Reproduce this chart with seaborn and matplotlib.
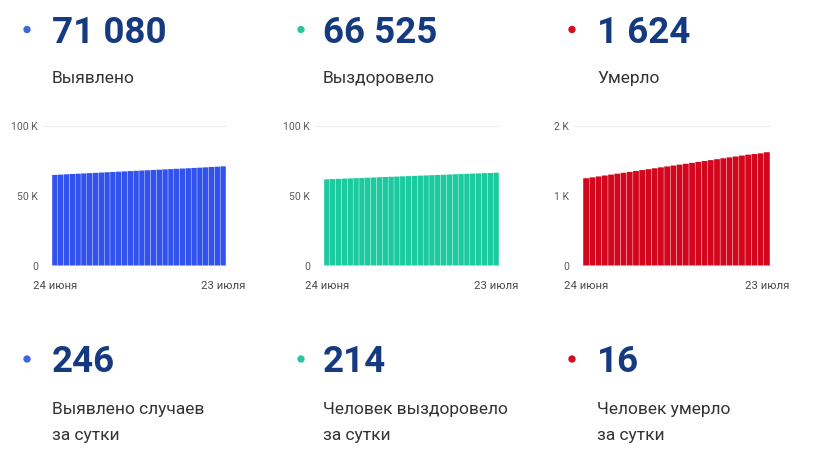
import matplotlib
matplotlib.use("Agg")
import matplotlib.pyplot as plt
import seaborn as sns
import pandas as pd

sns.set_style("white")
plt.rcParams['font.family'] = ['Roboto', 'DejaVu Sans']

# ---- data ----
days = list(range(1, 31))  # 24 June .. 23 July
x_tick_labels = ["24 июня", "23 июля"]

detected = [64950, 65150, 65370, 65580, 65800, 66010, 66220, 66420, 66630, 66840,
            67040, 67250, 67460, 67660, 67870, 68080, 68290, 68500, 68700, 68910,
            69110, 69320, 69520, 69730, 69940, 70150, 70360, 70600, 70834, 71080]
recovered = [61800, 61960, 62120, 62290, 62450, 62610, 62780, 62940, 63100, 63270,
             63430, 63590, 63760, 63920, 64080, 64250, 64410, 64570, 64740, 64900,
             65060, 65230, 65390, 65550, 65720, 65880, 66040, 66200, 66311, 66525]
deaths = [1251, 1264, 1277, 1290, 1303, 1316, 1329, 1342, 1355, 1368,
          1381, 1394, 1407, 1420, 1433, 1446, 1459, 1472, 1485, 1498,
          1511, 1524, 1537, 1550, 1563, 1576, 1589, 1598, 1608, 1624]

totals = ["71 080", "66 525", "1 624"]
total_labels = ["Выявлено", "Выздоровело", "Умерло"]
daily = ["246", "214", "16"]
daily_labels = [["Выявлено случаев", "за сутки"],
                ["Человек выздоровело", "за сутки"],
                ["Человек умерло", "за сутки"]]

series = [detected, recovered, deaths]
ymax = [100000, 100000, 2000]
yticks = [[0, 50000, 100000], [0, 50000, 100000], [0, 1000, 2000]]
ytick_labels = [["0", "50 K", "100 K"], ["0", "50 K", "100 K"], ["0", "1 K", "2 K"]]

bar_colors = ["#3152ec", "#1ccaa0", "#d2071d"]
dot_colors = ["#3f66de", "#2fc49f", "#d0101f"]
navy = "#163a80"
textgray = "#333333"

W, H = 820, 461
fig = plt.figure(figsize=(W / 100, H / 100), dpi=100)
fig.patch.set_facecolor("white")

def fx(px):
    return px / W

def fy(py):
    return 1 - py / H

# chart axes in pixel coords: (left, right)
chart_x = [(52, 226), (324, 499), (583, 770)]
chart_top, chart_bottom = 126, 265.5

for i in range(3):
    l, r = chart_x[i]
    ax = fig.add_axes([fx(l), fy(chart_bottom), (r - l) / W, (chart_bottom - chart_top) / H])
    df = pd.DataFrame({"day": days, "value": series[i]})
    sns.barplot(data=df, x="day", y="value", color=bar_colors[i], saturation=1,
                width=0.93, ax=ax, linewidth=0)
    for p in ax.patches:
        p.set_snap(False)
        p.set_antialiased(True)
    ax.set_xlim(-0.5, len(days) - 0.5)
    ax.set_ylim(0, ymax[i])
    ax.axhline(ymax[i], xmin=-0.05, xmax=1.0, color="#ececec", lw=0.8, clip_on=False, zorder=0)
    ax.set_yticks(yticks[i])
    ax.set_yticklabels(ytick_labels[i], fontsize=7.5, color="#5a5a5a")
    ax.set_xticks([0, len(days) - 1])
    ax.set_xticklabels(x_tick_labels, fontsize=8.2, color="#4a4a4a")
    ax.tick_params(axis="both", length=0)
    ax.tick_params(axis="y", pad=10)
    ax.tick_params(axis="x", pad=11)
    ax.set_xlabel("")
    ax.set_ylabel("")
    for s in ax.spines.values():
        s.set_visible(False)
    ax.set_facecolor("none")

# text overlay
text_x = [52, 323, 597]
dot_x = [27, 301, 572]
for i in range(3):
    fig.text(fx(text_x[i]), fy(43), totals[i], fontsize=26.5, fontweight="bold",
             color=navy, ha="left", va="baseline")
    fig.text(fx(text_x[i]), fy(83), total_labels[i], fontsize=12.5,
             color=textgray, ha="left", va="baseline")
    fig.text(fx(text_x[i]), fy(372), daily[i], fontsize=26.5, fontweight="bold",
             color=navy, ha="left", va="baseline")
    fig.text(fx(text_x[i]), fy(414), daily_labels[i][0], fontsize=12.5,
             color=textgray, ha="left", va="baseline")
    fig.text(fx(text_x[i]), fy(440), daily_labels[i][1], fontsize=12.5,
             color=textgray, ha="left", va="baseline")

overlay = fig.add_axes([0, 0, 1, 1], facecolor="none")
overlay.set_xlim(0, W)
overlay.set_ylim(H, 0)
overlay.axis("off")
overlay.scatter(dot_x, [29.5] * 3, s=28, c=dot_colors, linewidths=0)
overlay.scatter(dot_x, [359] * 3, s=28, c=dot_colors, linewidths=0)

fig.savefig("out.png", dpi=100, facecolor="white")
